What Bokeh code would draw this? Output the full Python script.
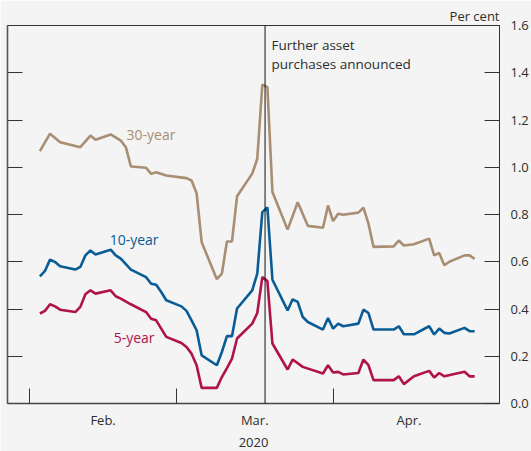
import pandas as pd
from bokeh.plotting import figure
from bokeh.models import (Range1d, LinearAxis, FixedTicker, PrintfTickFormatter,
                          CustomJSTickFormatter, Span, Label)
from bokeh.embed import file_html
from bokeh.resources import INLINE

# ---------------- data ----------------
dates_30y = ["2020-02-03","2020-02-05","2020-02-07","2020-02-11","2020-02-13","2020-02-14","2020-02-17",
             "2020-02-19","2020-02-20","2020-02-21","2020-02-24","2020-02-25","2020-02-26","2020-02-28",
             "2020-03-03","2020-03-04","2020-03-05","2020-03-06","2020-03-09","2020-03-10","2020-03-11",
             "2020-03-12","2020-03-13","2020-03-16","2020-03-17","2020-03-18","2020-03-19","2020-03-20",
             "2020-03-23","2020-03-25","2020-03-27","2020-03-30","2020-03-31",
             "2020-04-01","2020-04-02","2020-04-03","2020-04-06","2020-04-07","2020-04-08","2020-04-09",
             "2020-04-13","2020-04-14","2020-04-15","2020-04-17","2020-04-20","2020-04-21","2020-04-22",
             "2020-04-23","2020-04-24","2020-04-27","2020-04-28","2020-04-29"]
yields_30y = [1.068,1.142,1.106,1.085,1.134,1.116,1.139,1.113,1.085,1.003,0.998,0.972,0.979,0.965,
              0.954,0.944,0.890,0.683,0.526,0.550,0.686,0.686,0.877,0.973,1.036,1.350,1.339,0.895,
              0.736,0.852,0.752,0.744,0.838,
              0.772,0.803,0.799,0.808,0.829,0.761,0.663,0.665,0.690,0.669,0.674,0.698,0.627,0.637,
              0.585,0.600,0.627,0.627,0.612]

dates_10y = ["2020-02-03","2020-02-04","2020-02-05","2020-02-06","2020-02-07","2020-02-10","2020-02-11",
             "2020-02-12","2020-02-13","2020-02-14","2020-02-17","2020-02-18","2020-02-19","2020-02-21",
             "2020-02-24","2020-02-25","2020-02-26","2020-02-27","2020-02-28",
             "2020-03-02","2020-03-03","2020-03-04","2020-03-05","2020-03-06","2020-03-09","2020-03-10",
             "2020-03-11","2020-03-12","2020-03-13","2020-03-16","2020-03-17","2020-03-18","2020-03-19",
             "2020-03-20","2020-03-23","2020-03-24","2020-03-25","2020-03-26","2020-03-27","2020-03-30",
             "2020-03-31",
             "2020-04-01","2020-04-02","2020-04-03","2020-04-06","2020-04-07","2020-04-08","2020-04-09",
             "2020-04-13","2020-04-14","2020-04-15","2020-04-17","2020-04-20","2020-04-21","2020-04-22",
             "2020-04-23","2020-04-24","2020-04-27","2020-04-28","2020-04-29"]
yields_10y = [0.538,0.561,0.609,0.599,0.581,0.567,0.578,0.627,0.648,0.631,0.651,0.627,0.613,0.567,
              0.535,0.507,0.503,0.472,0.437,
              0.411,0.392,0.352,0.310,0.204,0.162,0.218,0.285,0.285,0.402,0.479,0.550,0.810,0.830,
              0.524,0.394,0.441,0.430,0.366,0.345,0.313,0.362,
              0.317,0.338,0.327,0.338,0.397,0.383,0.313,0.313,0.327,0.293,0.293,0.327,0.292,0.317,
              0.299,0.296,0.320,0.306,0.306]

dates_5y = ["2020-02-03","2020-02-04","2020-02-05","2020-02-06","2020-02-07","2020-02-10","2020-02-11",
            "2020-02-12","2020-02-13","2020-02-14","2020-02-17","2020-02-18","2020-02-19","2020-02-21",
            "2020-02-24","2020-02-25","2020-02-26","2020-02-27","2020-02-28",
            "2020-03-02","2020-03-03","2020-03-04","2020-03-05","2020-03-06","2020-03-09","2020-03-10",
            "2020-03-11","2020-03-12","2020-03-13","2020-03-16","2020-03-17","2020-03-18","2020-03-19",
            "2020-03-20","2020-03-23","2020-03-24","2020-03-26","2020-03-30","2020-03-31",
            "2020-04-01","2020-04-02","2020-04-03","2020-04-06","2020-04-07","2020-04-08","2020-04-09",
            "2020-04-13","2020-04-14","2020-04-15","2020-04-17","2020-04-20","2020-04-21","2020-04-22",
            "2020-04-23","2020-04-27","2020-04-28","2020-04-29"]
yields_5y = [0.381,0.392,0.420,0.411,0.397,0.387,0.409,0.462,0.479,0.465,0.479,0.454,0.444,0.420,
             0.387,0.359,0.352,0.317,0.282,
             0.256,0.239,0.211,0.162,0.066,0.066,0.112,0.150,0.190,0.275,0.338,0.383,0.535,0.518,
             0.254,0.144,0.186,0.155,0.127,0.162,
             0.131,0.134,0.123,0.129,0.186,0.162,0.099,0.099,0.115,0.082,0.115,0.138,0.110,0.129,
             0.115,0.134,0.115,0.115]

month_starts = ["2020-02-01", "2020-03-01", "2020-04-01"]
month_labels = ["Feb.", "Mar.", "Apr."]
month_mids = ["2020-02-15 12:00", "2020-03-16 12:00", "2020-04-16 00:00"]
announce_date = "2020-03-18 13:00"
announce_text = ["Further asset", "purchases announced"]
y_ticks = [0.0, 0.2, 0.4, 0.6, 0.8, 1.0, 1.2, 1.4, 1.6]
x_axis_title = "2020"
unit_label = "Per cent"
series_names = ["30-year", "10-year", "5-year"]

# ---------------- helpers ----------------
origin = pd.Timestamp("2020-02-01")
def days(ds):
    return [(pd.Timestamp(d) - origin) / pd.Timedelta(days=1) for d in ds]

BG = "#f3f4f3"
TXT = "#2e2e2e"
C30 = "#a88e73"
C10 = "#0a5c96"
C5 = "#b0124a"
FONT = "Open Sans"
X0, X1 = -4.41, 92.92

p = figure(width=531, height=451, output_backend="svg", toolbar_location=None,
           x_range=Range1d(X0, X1), y_range=Range1d(0, 1.6),
           y_axis_location="right", min_border_left=7, min_border_right=32,
           min_border_top=25, min_border_bottom=48,
           background_fill_color=BG, border_fill_color=BG)
p.outline_line_color = "#333333"
p.outline_line_width = 1
p.grid.visible = False

# unit label as title, right aligned above the frame
p.title.text = unit_label
p.title.align = "right"
p.title.text_font = FONT
p.title.text_font_size = "13px"
p.title.text_font_style = "normal"
p.title.text_color = TXT
p.title.standoff = 2
p.title.offset = 0

# right axis (labels)
ya = p.yaxis[0]
ya.ticker = FixedTicker(ticks=y_ticks)
ya.formatter = PrintfTickFormatter(format="%.1f")
ya.major_tick_in = 15
ya.major_tick_out = 0
ya.minor_tick_line_color = None
ya.major_label_standoff = 11
ya.major_label_text_font = FONT
ya.major_label_text_font_size = "13px"
ya.major_label_text_color = TXT
ya.axis_line_color = "#333333"
ya.major_tick_line_color = "#333333"

# left axis (ticks only, no labels)
la = LinearAxis(ticker=FixedTicker(ticks=y_ticks[1:-1]),
                formatter=CustomJSTickFormatter(code="return '';"))
la.major_tick_in = 15
la.major_tick_out = 0
la.minor_tick_line_color = None
la.major_label_standoff = 0
la.axis_line_color = "#555555"
la.axis_line_width = 1.6
la.major_tick_line_color = "#333333"
p.add_layout(la, "left")

# bottom axis
xa = p.xaxis[0]
xa.ticker = FixedTicker(ticks=days(month_mids), minor_ticks=days(month_starts))
xa.formatter = CustomJSTickFormatter(args=dict(pos=days(month_mids), labels=month_labels),
    code="for (let i = 0; i < pos.length; i++) { if (Math.abs(pos[i] - tick) < 1e-6) return labels[i]; } return '';")
xa.major_tick_in = 0
xa.major_tick_out = 0
xa.minor_tick_in = 15
xa.minor_tick_out = 0
xa.minor_tick_line_color = "#333333"
xa.axis_line_color = "#444444"
xa.axis_line_width = 1.5
xa.major_label_standoff = 7
xa.major_label_text_font = FONT
xa.major_label_text_font_size = "13px"
xa.major_label_text_color = TXT
xa.axis_label = x_axis_title
xa.axis_label_standoff = 6
xa.axis_label_text_font = FONT
xa.axis_label_text_font_size = "13px"
xa.axis_label_text_font_style = "normal"
xa.axis_label_text_color = TXT

# series
p.line(days(dates_30y), yields_30y, line_color=C30, line_width=2.6)
p.line(days(dates_10y), yields_10y, line_color=C10, line_width=2.6)
p.line(days(dates_5y), yields_5y, line_color=C5, line_width=2.6)

# announcement line
p.add_layout(Span(location=days([announce_date])[0], dimension="height",
                  line_color="#111111", line_width=1))

ann_x = days(["2020-03-20"])[0]
p.add_layout(Label(x=ann_x, y=1.6, text=announce_text[0], text_font=FONT, text_font_size="13.5px",
                   text_color=TXT, text_baseline="middle", x_offset=-1, y_offset=-19))
p.add_layout(Label(x=ann_x, y=1.6, text=announce_text[1], text_font=FONT, text_font_size="13.5px",
                   text_color=TXT, text_baseline="middle", x_offset=-1, y_offset=-38))

# series labels
p.add_layout(Label(x=19.13, y=1.137, text=series_names[0], text_font=FONT, text_font_size="14px",
                   text_color=C30, text_baseline="middle"))
p.add_layout(Label(x=15.8, y=0.696, text=series_names[1], text_font=FONT, text_font_size="14px",
                   text_color=C10, text_baseline="middle"))
p.add_layout(Label(x=16.6, y=0.280, text=series_names[2], text_font=FONT, text_font_size="14px",
                   text_color=C5, text_baseline="middle"))

open("out.html", "w").write(file_html(p, INLINE))
